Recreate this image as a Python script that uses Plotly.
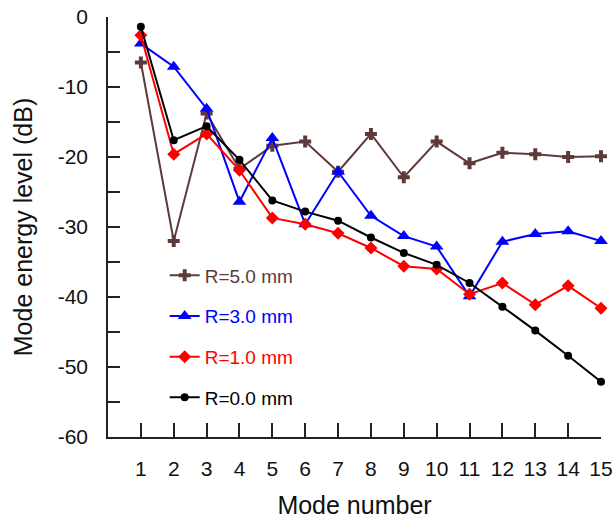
import plotly.graph_objects as go

modes = list(range(1, 16))
r50 = [-6.5, -32.0, -13.8, -21.7, -18.4, -17.8, -22.1, -16.7, -22.9, -17.8, -20.9, -19.4, -19.6, -20.0, -19.9]
r30 = [-3.8, -7.1, -13.1, -26.4, -17.3, -29.6, -22.1, -28.4, -31.3, -32.8, -39.9, -32.1, -31.0, -30.6, -32.0]
r10 = [-2.6, -19.6, -16.7, -21.9, -28.7, -29.6, -30.9, -33.0, -35.6, -36.0, -39.6, -38.0, -41.1, -38.4, -41.6]
r00 = [-1.4, -17.6, -15.6, -20.4, -26.2, -27.8, -29.1, -31.5, -33.7, -35.4, -38.0, -41.4, -44.8, -48.4, -52.1]
y_ticks = [-60, -50, -40, -30, -20, -10, 0]
y_tick_labels = ["-60", "-50", "-40", "-30", "-20", "-10", "0"]

series = [
    ("R=5.0 mm", r50, "#5e3a3a", "cross", 10),
    ("R=3.0 mm", r30, "#0000ff", "triangle-up", 12),
    ("R=1.0 mm", r10, "#ff0000", "diamond", 10),
    ("R=0.0 mm", r00, "#000000", "circle", 8),
]

fig = go.Figure()
for i, (name, ys, col, sym, sz) in enumerate(series):
    fig.add_trace(go.Scatter(
        x=modes, y=ys, mode="lines+markers",
        name=f"<span style='color:{col}'>{name}</span>",
        legendgroup=str(i),
        line=dict(color=col, width=2),
        marker=dict(symbol=sym, size=sz, color=col),
        cliponaxis=False,
    ))

fig.update_layout(
    width=614, height=520,
    margin=dict(l=108, r=13, t=17, b=83, autoexpand=False),
    plot_bgcolor="white", paper_bgcolor="white",
    font=dict(family="Liberation Sans, Arial, sans-serif", size=21, color="#111"),
    legend=dict(x=0.115, y=0.43, xanchor="left", yanchor="top",
                bgcolor="rgba(0,0,0,0)", tracegroupgap=13,
                font=dict(size=19), itemwidth=30),
    xaxis=dict(range=[0, 15], tickvals=modes, ticks="inside", ticklen=14,
               tickwidth=1.5, tickcolor="#222", showline=True, linecolor="#222",
               linewidth=1.5, showgrid=False, zeroline=False, automargin=False,
               ticklabelstandoff=12,
               title=dict(text="Mode number", standoff=18)),
    yaxis=dict(range=[-60, 0], tickvals=y_ticks, ticktext=y_tick_labels,
               ticks="inside", ticklen=12,
               tickwidth=1.5, tickcolor="#222", showline=True, linecolor="#222",
               linewidth=1.5, showgrid=False, zeroline=False, automargin=False,
               ticklabelstandoff=14,
               minor=dict(dtick=5, ticks="inside", ticklen=12, tickwidth=1.5,
                          tickcolor="#222", showgrid=False),
               title=dict(text="Mode energy level (dB)", standoff=18)),
)

fig.write_html("out.html")
